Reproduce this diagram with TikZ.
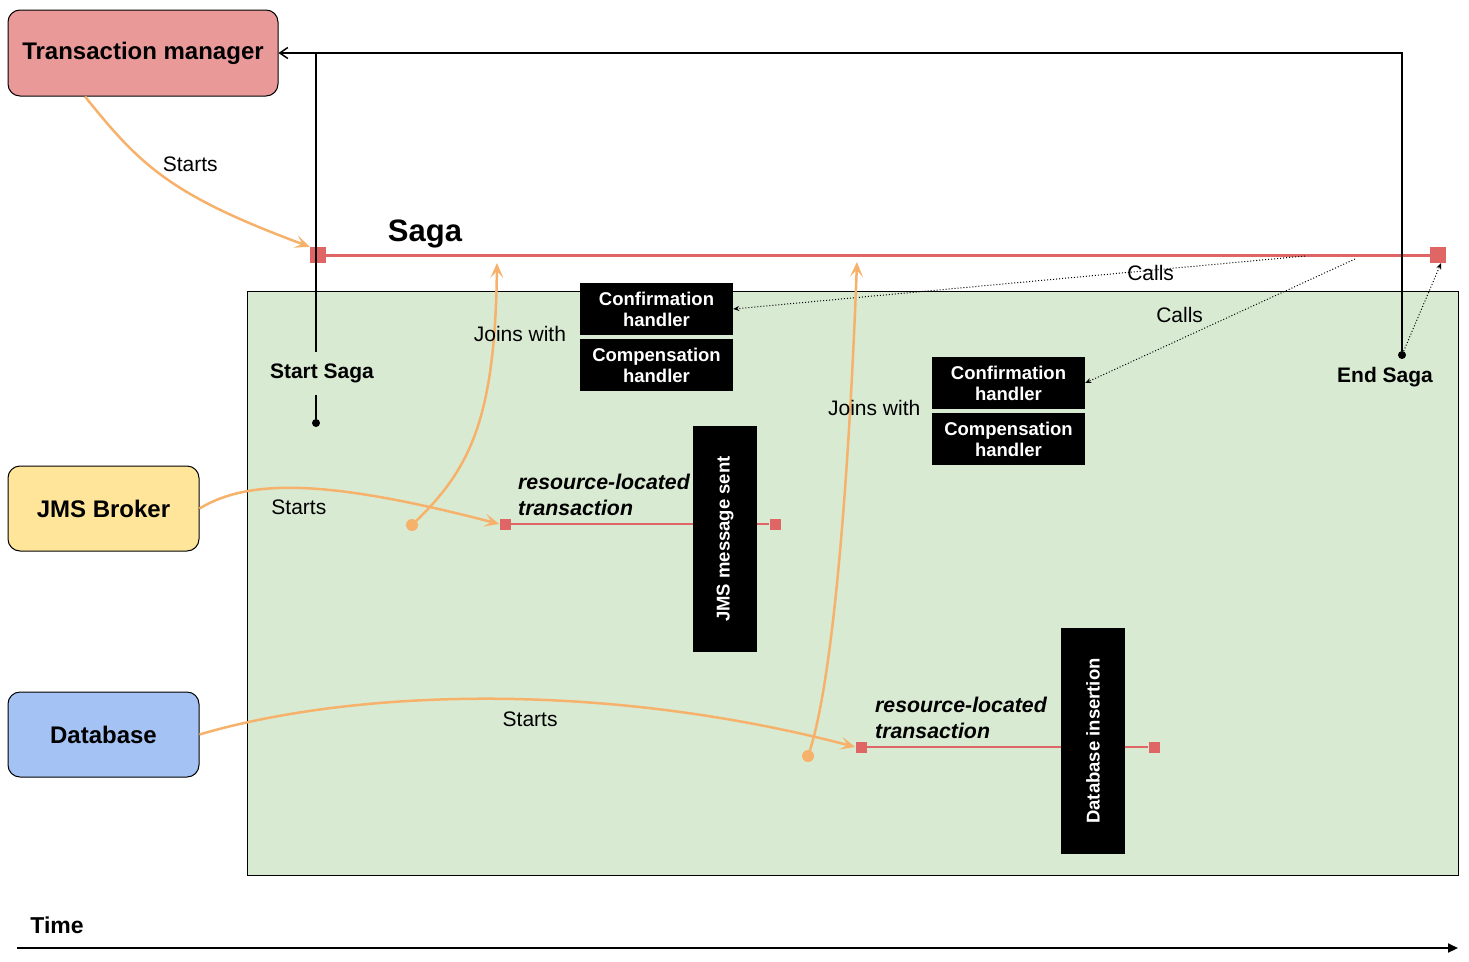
\documentclass[tikz,border=0pt]{standalone}
\usepackage{fontspec}
\setmainfont{Liberation Sans}
\usepackage{tikz}
\usetikzlibrary{arrows.meta, positioning, shapes.geometric}
\definecolor{tmred}{HTML}{EA9999}
\definecolor{jmsyellow}{HTML}{FFE599}
\definecolor{dbblue}{HTML}{A4C2F4}
\definecolor{sagagreen}{HTML}{D9EAD3}
\definecolor{sagared}{HTML}{E06666}
\definecolor{joinorange}{HTML}{F6B26B}
\tikzset{
    actor/.style={rectangle, rounded corners=12pt, draw=black, line width=1pt, minimum width=191pt, minimum height=85pt, inner sep=0pt, font=\fontsize{24}{28}\selectfont\bfseries},
    handler/.style={rectangle, fill=black, text=white, minimum width=153pt, minimum height=52pt, inner sep=0pt, align=center, font=\fontsize{18.5}{21}\selectfont\bfseries},
    eventbox/.style={rectangle, fill=black, text=white, rotate=90, minimum width=226pt, minimum height=64pt, inner sep=0pt, font=\fontsize{18.5}{21}\selectfont\bfseries},
    endpoint/.style={rectangle, fill=sagared, inner sep=0pt, minimum size=11pt},
    sagadot/.style={circle, fill=black, inner sep=0pt, minimum size=8pt},
    joindot/.style={circle, fill=joinorange, inner sep=0pt, minimum size=12pt},
    joinarrow/.style={line width=2.5pt, draw=joinorange, -{Stealth[length=15pt,width=13pt,inset=7pt]}},
    callarrow/.style={dotted, line width=1pt, -{Stealth[length=6pt,width=5pt]}},
    lbl/.style={font=\fontsize{21}{25}\selectfont, inner sep=2pt},
    boldlbl/.style={font=\fontsize{21}{25}\selectfont\bfseries, inner sep=2pt},
    txlbl/.style={font=\fontsize{21.3}{26}\selectfont\bfseries\itshape, align=left, inner sep=3pt},
}
\begin{document}
\begin{tikzpicture}[x=1pt, y=-1pt]
    \useasboundingbox (0,0) rectangle (1469,961);

    \node [rectangle, draw=black, line width=1pt, fill=sagagreen, minimum width=1211pt, minimum height=584pt, inner sep=0pt] (scope) at (852.5,583) {};

    \node [actor, fill=tmred, minimum width=270pt, minimum height=86pt] (tm) at (143,53) {Transaction manager};
    \node [actor, fill=jmsyellow] (jms) at (103.5,508.5) {JMS Broker};
    \node [actor, fill=dbblue] (db) at (103.5,734.5) {Database};

    \node [endpoint, minimum size=16pt] (sagastart) at (318,255) {};
    \node [endpoint, minimum size=16pt] (sagaend) at (1438,255) {};
    \draw [sagared, line width=3pt] (sagastart) -- (sagaend);
    \node [font=\fontsize{31}{36}\selectfont\bfseries] (sagalbl) at (425,234) {Saga};

    \node [handler] (conf1) at (656.5,309) {Confirmation\\handler};
    \node [handler, below=4pt of conf1] (comp1) {Compensation\\handler};
    \node [handler] (conf2) at (1008.5,383) {Confirmation\\handler};
    \node [handler, below=4pt of conf2] (comp2) {Compensation\\handler};

    \node [endpoint] (tx1start) at (505,524) {};
    \node [endpoint] (tx1end) at (775,524) {};
    \draw [sagared, line width=2.5pt] (tx1start) -- (tx1end);
    \node [eventbox] (jmssent) at (725,539) {JMS message sent};
    \node [txlbl, anchor=west] (tx1lbl) at (515,495) {resource-located\\transaction};

    \node [endpoint] (tx2start) at (861,747) {};
    \node [endpoint] (tx2end) at (1154,747) {};
    \draw [sagared, line width=2.5pt] (tx2start) -- (tx2end);
    \node [eventbox] (dbinsert) at (1093,741) {Database insertion};
    \node [txlbl, anchor=west] (tx2lbl) at (872,718) {resource-located\\transaction};

    \node [sagadot] (startdot) at (316,423) {};
    \node [sagadot] (enddot) at (1402,355) {};
    \draw [line width=1.5pt, -{Straight Barb[length=8pt,width=11pt]}] (enddot) |- (tm.east);
    \draw [line width=1.5pt] (startdot) -- node[boldlbl, pos=0.125, xshift=6pt, fill=sagagreen, inner ysep=12pt] {Start Saga} (startdot |- tm.east);
    \node [boldlbl] (endlbl) at (1385,377) {End Saga};

    \coordinate (callsrc1) at (1305,256);
    \coordinate (callsrc2) at (1355,259);
    \draw [callarrow] (callsrc1) -- node[lbl, pos=0.27, yshift=-3pt] {Calls} (conf1.east);
    \draw [callarrow] (callsrc2) -- node[lbl, pos=0.65, above=14pt] {Calls} (conf2.east);
    \draw [callarrow] (enddot) -- ([xshift=3pt]sagaend.south);

    \node [joindot] (join1) at (412,525) {};
    \node [joindot] (join2) at (808,756) {};

    \draw [joinarrow] ([xshift=-58pt]tm.south) .. controls (140,165) and (170,195) .. node[lbl, pos=0.4, right=12pt] {Starts} (sagastart.north west);
    \draw [joinarrow] (jms.east) .. controls (250,478) and (330,480) .. node[lbl, pos=0.5, below=8pt, xshift=-6pt] {Starts} (tx1start.west);
    \draw [joinarrow] (db.east) .. controls (350,690) and (600,680) .. node[lbl, pos=0.5, below=10pt, xshift=42pt] {Starts} (tx2start.west);
    \draw [joinarrow] (join1.center) .. controls (470,470) and (495,420) .. node[lbl, pos=0.83, xshift=26pt] {Joins with} (497,263);
    \draw [joinarrow] (join2.center) .. controls (835,680) and (850,450) .. node[lbl, pos=0.75, xshift=24pt] {Joins with} (857,262);

    \node [font=\fontsize{23}{27}\selectfont\bfseries] (timelbl) at (57,925) {Time};
    \coordinate (timeL) at (17,948);
    \coordinate (timeR) at (1458,948);
    \draw [line width=2pt, -{Triangle[length=10pt,width=9pt]}] (timeL) -- (timeR);
\end{tikzpicture}
\end{document}
